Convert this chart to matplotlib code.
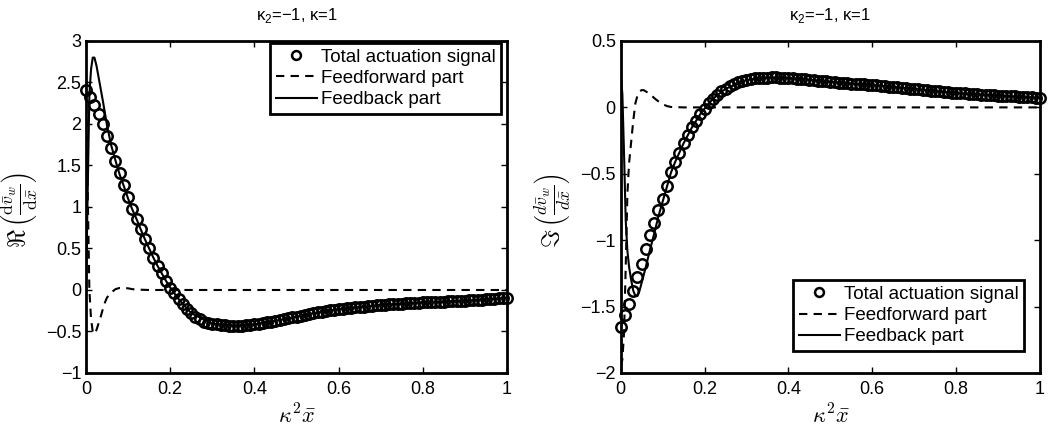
import numpy as np
import matplotlib.pyplot as plt

plt.rcParams['font.family'] = ['Liberation Sans', 'DejaVu Sans']

# Total actuation signal, sampled every 0.01 on [0, 1]
x_total = np.linspace(0, 1, 101)

re_total = [
    2.41, 2.33, 2.23, 2.12, 2.00, 1.86, 1.71, 1.56, 1.41, 1.27,
    1.12, 0.98, 0.86, 0.73, 0.61, 0.50, 0.39, 0.29, 0.20, 0.11,
    0.03, -0.04, -0.11, -0.17, -0.23, -0.28, -0.32, -0.35, -0.38, -0.395,
    -0.405, -0.415, -0.42, -0.425, -0.43, -0.43, -0.43, -0.43, -0.425, -0.42,
    -0.415, -0.41, -0.40, -0.39, -0.38, -0.37, -0.36, -0.35, -0.34, -0.33,
    -0.32, -0.31, -0.30, -0.29, -0.28, -0.27, -0.26, -0.255, -0.245, -0.24,
    -0.23, -0.225, -0.22, -0.215, -0.21, -0.205, -0.20, -0.195, -0.19, -0.185,
    -0.18, -0.177, -0.174, -0.171, -0.168, -0.165, -0.162, -0.159, -0.156, -0.153,
    -0.150, -0.148, -0.146, -0.144, -0.142, -0.140, -0.138, -0.136, -0.134, -0.131,
    -0.128, -0.125, -0.122, -0.119, -0.116, -0.113, -0.110, -0.106, -0.102, -0.098,
    -0.094,
]

im_total = [
    -1.65, -1.565, -1.48, -1.38, -1.28, -1.18, -1.07, -0.96, -0.87, -0.77,
    -0.69, -0.59, -0.49, -0.41, -0.34, -0.27, -0.21, -0.15, -0.10, -0.05,
    -0.01, 0.03, 0.065, 0.095, 0.12, 0.14, 0.16, 0.175, 0.19, 0.20,
    0.207, 0.213, 0.218, 0.221, 0.223, 0.225, 0.226, 0.226, 0.225, 0.224,
    0.222, 0.220, 0.217, 0.214, 0.211, 0.208, 0.205, 0.202, 0.199, 0.196,
    0.193, 0.190, 0.187, 0.184, 0.181, 0.179, 0.177, 0.175, 0.173, 0.171,
    0.169, 0.166, 0.163, 0.160, 0.157, 0.154, 0.151, 0.148, 0.145, 0.142,
    0.139, 0.136, 0.133, 0.130, 0.127, 0.124, 0.121, 0.118, 0.115, 0.112,
    0.109, 0.107, 0.105, 0.103, 0.101, 0.099, 0.097, 0.095, 0.093, 0.091,
    0.089, 0.087, 0.085, 0.084, 0.082, 0.080, 0.079, 0.077, 0.075, 0.074,
    0.072,
]

# Feedforward part (real and imaginary), finer near the wall
x_ff_re = [0, 0.004, 0.008, 0.012, 0.016, 0.02, 0.025, 0.03, 0.035, 0.04, 0.045,
           0.05, 0.06, 0.07, 0.08, 0.09, 0.10, 0.11, 0.12, 0.15, 1.0]
re_ff = [2.41, 1.20, 0.0, -0.35, -0.50, -0.53, -0.48, -0.40, -0.32, -0.23, -0.15,
         -0.09, -0.03, 0.01, 0.025, 0.025, 0.02, 0.01, 0.005, 0.0, 0.0]

x_ff_im = [0, 0.004, 0.008, 0.012, 0.016, 0.02, 0.025, 0.03, 0.035, 0.04, 0.045,
           0.05, 0.055, 0.06, 0.07, 0.08, 0.09, 0.10, 0.11, 0.12, 0.15, 1.0]
im_ff = [-1.95, -1.90, -1.70, -1.20, -0.65, -0.42, -0.26, -0.10, 0.03, 0.09, 0.12,
         0.13, 0.13, 0.12, 0.10, 0.07, 0.045, 0.025, 0.01, 0.003, 0.0, 0.0]

# Feedback part
x_fb_re = [0, 0.004, 0.008, 0.012, 0.016, 0.02, 0.025, 0.03,
           0.04, 0.05, 0.06, 0.07, 0.08, 0.09, 0.10, 0.11, 0.12, 0.13, 0.14,
           0.15, 0.16, 0.17, 0.18, 0.19, 0.20, 0.22, 0.25,
           0.30, 0.35, 0.40, 0.45, 0.50, 0.55, 0.60, 0.65, 0.70, 0.75,
           0.80, 0.85, 0.90, 0.95, 1.00]
re_fb = [0.0, 1.18, 2.35, 2.66, 2.80, 2.80, 2.70, 2.56,
         2.28, 1.98, 1.74, 1.56, 1.39, 1.25, 1.10, 0.97, 0.855, 0.73, 0.61,
         0.50, 0.39, 0.29, 0.20, 0.11, 0.03, -0.11, -0.28,
         -0.405, -0.43, -0.415, -0.37, -0.32, -0.27, -0.23, -0.205, -0.18, -0.165,
         -0.15, -0.14, -0.128, -0.113, -0.094]

x_fb_im = [0, 0.004, 0.008, 0.012, 0.016, 0.02, 0.025, 0.03, 0.035, 0.04, 0.045, 0.05,
           0.06, 0.07, 0.08, 0.09, 0.10, 0.11, 0.12, 0.13, 0.14, 0.15, 0.16, 0.17,
           0.18, 0.19, 0.20, 0.22, 0.25,
           0.30, 0.35, 0.40, 0.45, 0.50, 0.55, 0.60, 0.65, 0.70, 0.75,
           0.80, 0.85, 0.90, 0.95, 1.00]
im_fb = [0.25, 0.10, -0.35, -0.85, -1.08, -1.20, -1.30, -1.38, -1.42, -1.42, -1.38, -1.32,
         -1.20, -1.07, -0.95, -0.82, -0.71, -0.60, -0.49, -0.41, -0.34, -0.27, -0.21, -0.15,
         -0.10, -0.05, -0.01, 0.065, 0.14,
         0.207, 0.225, 0.222, 0.208, 0.193, 0.179, 0.169, 0.154, 0.139, 0.124,
         0.109, 0.099, 0.089, 0.080, 0.072]

labels = ['Total actuation signal', 'Feedforward part', 'Feedback part']
title = r'κ$_\mathregular{2}$=−1, κ=1'


def panel(ax, tot, xff, ff, xfb, fb, ylim, yticks, ylabel, ylab_x,
          legend_loc, legend_anchor):
    ax.plot(x_total, tot, 'o', ms=7.5, mfc='none', mec='k', mew=1.8,
            clip_on=False, zorder=3, label=labels[0])
    ax.plot(xff, ff, color='k', lw=1.5, ls=(0, (4, 3)), zorder=4, label=labels[1])
    ax.plot(xfb, fb, color='k', lw=1.5, zorder=4, label=labels[2])

    ax.set_xlim(0, 1)
    ax.set_ylim(*ylim)
    ax.set_xticks([0, 0.2, 0.4, 0.6, 0.8, 1])
    ax.set_xticklabels(['0', '0.2', '0.4', '0.6', '0.8', '1'])
    ax.set_yticks(yticks)
    ax.set_yticklabels([('%g' % t).replace('-', '−') for t in yticks])
    ax.tick_params(direction='in', top=True, right=True, length=4, width=1,
                   labelsize=13)
    ax.tick_params(axis='x', pad=6)
    ax.tick_params(axis='y', pad=3.5)
    for s in ax.spines.values():
        s.set_linewidth(2)

    ax.set_xlabel(r'$\kappa^2\bar{x}$', fontsize=16, math_fontfamily='cm')
    ax.xaxis.set_label_coords(0.5, -0.095)
    ax.set_ylabel(ylabel, fontsize=18, math_fontfamily='cm')
    ax.yaxis.set_label_coords(ylab_x, 0.49)

    ax.text(0.5, 1.062, title, transform=ax.transAxes, ha='center',
            va='baseline', fontsize=12)

    leg = ax.legend(loc=legend_loc, bbox_to_anchor=legend_anchor, borderaxespad=0,
                    fontsize=13.5, handlelength=2.2, handletextpad=0.2,
                    labelspacing=0.22, borderpad=0.3, fancybox=False,
                    framealpha=1, edgecolor='k', markerscale=0.85)
    leg.get_frame().set_linewidth(2)


fig = plt.figure(figsize=(10.63, 4.36), dpi=100)
ax1 = fig.add_axes([0.0809, 0.1445, 0.3961, 0.7615])
ax2 = fig.add_axes([0.5839, 0.1445, 0.3945, 0.7615])

panel(ax1, re_total, x_ff_re, re_ff, x_fb_re, re_fb, (-1, 3),
      [-1, -0.5, 0, 0.5, 1, 1.5, 2, 2.5, 3],
      r'$\Re\,\left(\frac{\mathrm{d}\bar{v}_w}{\mathrm{d}\bar{x}}\right)$', -0.109,
      'upper right', (0.986, 0.994))
panel(ax2, im_total, x_ff_im, im_ff, x_fb_im, im_fb, (-2, 0.5),
      [-2, -1.5, -1, -0.5, 0, 0.5],
      r'$\Im\,\left(\frac{d\bar{v}_w}{d\bar{x}}\right)$', -0.116,
      'lower right', (0.962, 0.066))

fig.savefig('out.png', dpi=100)
